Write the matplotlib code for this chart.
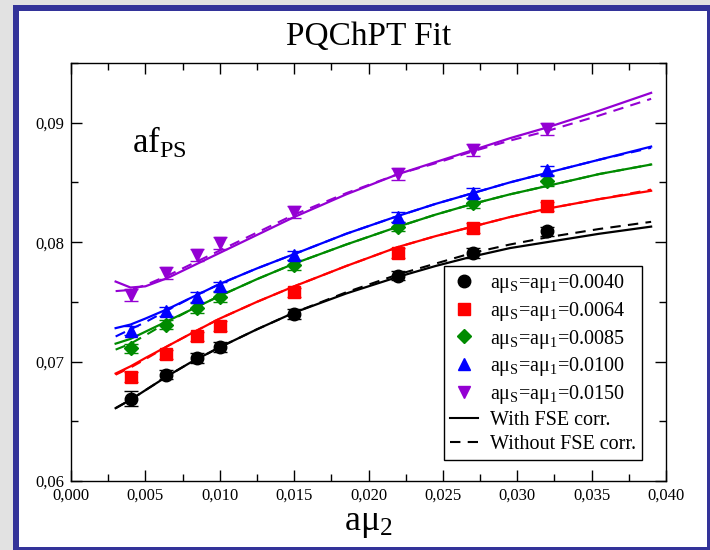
import numpy as np
import matplotlib
matplotlib.use("Agg")
import matplotlib.pyplot as plt
from matplotlib.lines import Line2D
from matplotlib.patches import Rectangle
from matplotlib.ticker import MultipleLocator, FuncFormatter

plt.rcParams['font.family'] = ['Liberation Serif', 'DejaVu Serif']
plt.rcParams['mathtext.fontset'] = 'custom'
plt.rcParams['mathtext.rm'] = 'Liberation Serif'
plt.rcParams['mathtext.it'] = 'Liberation Serif:italic'

# measured points: a*mu_2 and af_PS for each sea mass
mu2 = [0.0040, 0.0064, 0.0085, 0.0100, 0.0150, 0.0220, 0.0270, 0.0320]
sea_labels = ['0.0040', '0.0064', '0.0085', '0.0100', '0.0150']

f_0040 = [0.0669, 0.0689, 0.0703, 0.0712, 0.0740, 0.0772, 0.0791, 0.0809]
f_0064 = [0.0687, 0.0706, 0.0721, 0.0730, 0.0758, 0.0791, 0.0812, 0.0830]
f_0085 = [0.0711, 0.0731, 0.0745, 0.0754, 0.0781, 0.0813, 0.0833, 0.0851]
f_0100 = [0.0726, 0.0742, 0.0754, 0.0763, 0.0789, 0.0821, 0.0841, 0.0860]
f_0150 = [0.0756, 0.0774, 0.0789, 0.0799, 0.0825, 0.0857, 0.0877, 0.0895]

e_0040 = [0.0006, 0.0004, 0.0004, 0.0004, 0.0004, 0.0004, 0.0004, 0.0004]
e_0064 = [0.0004, 0.0004, 0.0004, 0.0004, 0.0004, 0.0004, 0.0004, 0.0004]
e_0085 = [0.0004, 0.0004, 0.0004, 0.0004, 0.0004, 0.0004, 0.0004, 0.0004]
e_0100 = [0.0004, 0.0004, 0.0004, 0.0004, 0.0004, 0.0004, 0.0004, 0.0004]
e_0150 = [0.0005, 0.0005, 0.0005, 0.0005, 0.0005, 0.0005, 0.0005, 0.0005]

# fit curves, with and without finite size corrections
x_fit = [0.003, 0.004, 0.005, 0.0065, 0.008, 0.010, 0.0125, 0.015,
         0.0185, 0.022, 0.0245, 0.027, 0.0295, 0.032, 0.0355, 0.039]

fse_0040 = [0.0661, 0.0668, 0.0676, 0.0688, 0.0699, 0.0712, 0.0727, 0.0741,
            0.0757, 0.0771, 0.0780, 0.0788, 0.0795, 0.0800, 0.0807, 0.0813]
nofse_0040 = [0.0661, 0.0668, 0.0676, 0.0688, 0.0699, 0.0712, 0.0727, 0.0741,
              0.0758, 0.0773, 0.0782, 0.0791, 0.0798, 0.0804, 0.0811, 0.0817]
fse_0064 = [0.0690, 0.0696, 0.0703, 0.0713, 0.0723, 0.0736, 0.0750, 0.0763,
            0.0780, 0.0796, 0.0805, 0.0813, 0.0821, 0.0828, 0.0836, 0.0843]
nofse_0064 = [0.0689, 0.0695, 0.0702, 0.0713, 0.0723, 0.0736, 0.0750, 0.0763,
              0.0780, 0.0796, 0.0805, 0.0813, 0.0821, 0.0828, 0.0836, 0.0844]
fse_0085 = [0.0715, 0.0719, 0.0725, 0.0734, 0.0743, 0.0755, 0.0769, 0.0782,
            0.0798, 0.0813, 0.0823, 0.0832, 0.0840, 0.0847, 0.0857, 0.0865]
nofse_0085 = [0.0710, 0.0715, 0.0722, 0.0733, 0.0743, 0.0755, 0.0769, 0.0782,
              0.0798, 0.0813, 0.0823, 0.0832, 0.0840, 0.0847, 0.0857, 0.0865]
fse_0100 = [0.0728, 0.0731, 0.0736, 0.0744, 0.0753, 0.0765, 0.0778, 0.0790,
            0.0807, 0.0822, 0.0832, 0.0841, 0.0850, 0.0858, 0.0869, 0.0880]
nofse_0100 = [0.0721, 0.0727, 0.0733, 0.0743, 0.0753, 0.0765, 0.0778, 0.0790,
              0.0807, 0.0822, 0.0832, 0.0841, 0.0850, 0.0858, 0.0869, 0.0879]
fse_0150 = [0.0767, 0.0762, 0.0763, 0.0770, 0.0779, 0.0791, 0.0806, 0.0821,
            0.0840, 0.0857, 0.0867, 0.0877, 0.0887, 0.0896, 0.0910, 0.0925]
nofse_0150 = [0.0759, 0.0760, 0.0764, 0.0772, 0.0781, 0.0793, 0.0808, 0.0823,
              0.0841, 0.0857, 0.0866, 0.0876, 0.0885, 0.0893, 0.0906, 0.0920]

points = [f_0040, f_0064, f_0085, f_0100, f_0150]
errors = [e_0040, e_0064, e_0085, e_0100, e_0150]
fits = [fse_0040, fse_0064, fse_0085, fse_0100, fse_0150]
fits_nofse = [nofse_0040, nofse_0064, nofse_0085, nofse_0100, nofse_0150]
colors = ['black', '#ff0000', '#008b00', '#0000ff', '#9400d3']
markers = ['o', 's', 'D', '^', 'v']
msizes = [9, 8.5, 7.5, 9, 9]

fig = plt.figure(figsize=(7.1, 5.5), dpi=100)
fig.patch.set_facecolor('#e2e2e2')

# slide style frame: blue border around a white panel
W, H = 710.0, 550.0
fig.patches.append(Rectangle((13 / W, -3 / H), 700 / W, 548 / H,
                             transform=fig.transFigure, facecolor='#333399',
                             edgecolor='none', zorder=-3))
fig.patches.append(Rectangle((19 / W, 3 / H), 688 / W, 536 / H,
                             transform=fig.transFigure, facecolor='white',
                             edgecolor='none', zorder=-2))

ax = fig.add_axes([71 / W, 69 / H, 595 / W, 418 / H])
ax.set_facecolor('white')

for fit, nofse, col in zip(fits, fits_nofse, colors):
    ax.plot(x_fit, nofse, color=col, lw=1.5, ls=(0, (5, 3.5)), zorder=2)
    ax.plot(x_fit, fit, color=col, lw=1.6, zorder=3)

for ys, es, col, m, ms in zip(points, errors, colors, markers, msizes):
    ax.errorbar(mu2, ys, yerr=es, fmt=m, color=col, ms=ms, mec=col,
                elinewidth=1.0, capsize=5, capthick=1.0, zorder=4)

ax.set_xlim(0.0, 0.040)
ax.set_ylim(0.06, 0.095)
ax.xaxis.set_major_locator(MultipleLocator(0.005))
ax.xaxis.set_minor_locator(MultipleLocator(0.0025))
ax.yaxis.set_major_locator(MultipleLocator(0.01))
ax.yaxis.set_minor_locator(MultipleLocator(0.005))
ax.xaxis.set_major_formatter(FuncFormatter(lambda v, p: f'{v:.3f}'.replace('.', ',')))
ax.yaxis.set_major_formatter(FuncFormatter(lambda v, p: f'{v:.2f}'.replace('.', ',')))
ax.tick_params(which='both', direction='in', top=True, right=True,
               labelsize=12, width=1.0)
ax.tick_params(which='major', length=8, pad=5)
ax.tick_params(which='minor', length=5)
for sp in ax.spines.values():
    sp.set_linewidth(1.0)

ax.set_xlabel('aμ$_\\mathrm{2}$', fontsize=26, labelpad=2)
ax.text(0.1025, 0.785, 'af$_\\mathrm{PS}$', transform=ax.transAxes,
        fontsize=25, va='baseline', ha='left')
fig.text(368.5 / W, (550 - 45) / H, 'PQChPT Fit', fontsize=24,
         ha='center', va='baseline')

handles = []
labels = []
for lab, col, m, ms in zip(sea_labels, colors, markers, msizes):
    handles.append(Line2D([], [], ls='none', marker=m, color=col, ms=ms))
    labels.append('aμ$_\\mathrm{S}$=aμ$_\\mathrm{1}$=' + lab)
handles.append(Line2D([], [], color='black', lw=1.5))
labels.append('With FSE corr.')
handles.append(Line2D([], [], color='black', lw=1.5, ls=(0, (5, 3.5))))
labels.append('Without FSE corr.')

leg = ax.legend(handles, labels, loc='lower right', bbox_to_anchor=(0.96, 0.05),
                fontsize=14.5, frameon=True, fancybox=False, edgecolor='black',
                framealpha=1, handlelength=1.4, handletextpad=0.6,
                labelspacing=0.24, borderpad=0.3, borderaxespad=0)
leg.get_frame().set_linewidth(1.0)

fig.savefig('out.png', dpi=100, facecolor=fig.get_facecolor())
